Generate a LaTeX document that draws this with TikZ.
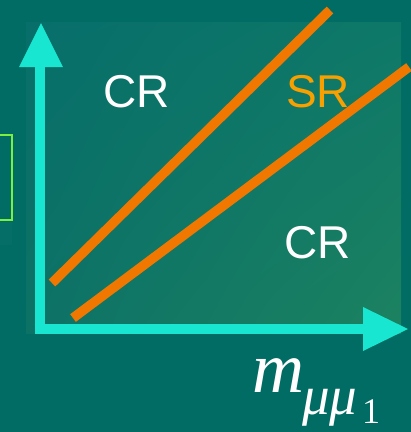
\documentclass[tikz,border=0pt]{standalone}
\usepackage{fontspec}
\usetikzlibrary{shadings}
\setmainfont{Liberation Serif}
\newfontfamily\lsans{Liberation Sans}
\definecolor{bgteal}{HTML}{006C64}
\definecolor{ulc}{HTML}{076E6A}
\definecolor{urc}{HTML}{0E7868}
\definecolor{llc}{HTML}{0D7266}
\definecolor{lrc}{HTML}{1C8260}
\definecolor{axiscol}{HTML}{18E6D0}
\definecolor{cutcol}{HTML}{F07800}
\definecolor{srcol}{HTML}{F8A000}
\definecolor{boxcol}{HTML}{7CF040}
\tikzset{
  axisline/.style={line width=10.5pt, draw=axiscol},
  axishead/.style={fill=axiscol, draw=none},
  cutline/.style={line width=9.5pt, draw=cutcol},
  region/.style={font=\lsans\fontsize{46}{46}\selectfont, inner sep=0pt},
}
\begin{document}
\begin{tikzpicture}[x=1pt,y=-1pt]
\useasboundingbox (0,0) rectangle (411,432);
\fill[bgteal] (0,0) rectangle (411,432);
% faint shadow under left box
\fill[bgteal!85!white, opacity=0.15] (0,222) rectangle (12,245);
% plot area
\shade[upper left=ulc, upper right=urc, lower left=llc, lower right=lrc] (26,22) rectangle (401,333);
% left green box (partly outside)
\draw[boxcol, line width=2pt] (-5,135) rectangle (11.5,220);
% coordinates
\coordinate (orig) at (40,329);
\coordinate (ytop) at (40,67);
\coordinate (xend) at (363,329);
\coordinate (l1a) at (52,283);
\coordinate (l1b) at (330,10);
\coordinate (l2a) at (73,318);
\coordinate (l2b) at (409,67);
% cut lines
\draw[cutline] (l1a) -- (l1b);
\draw[cutline] (l2a) -- (l2b);
% axes
\draw[axisline] (40,334) -- (ytop);
\draw[axisline] (34.5,329) -- (xend);
\fill[axishead] (19,67) -- (41,23) -- (63,67) -- cycle;
\fill[axishead] (363,307) -- (408,329) -- (363,351) -- cycle;
% labels
\node[region, text=white] (cr1) at (137,92) {CR};
\node[region, text=srcol] (sr) at (318,92) {SR};
\node[region, text=white] (cr2) at (318,243) {CR};
\node[anchor=base west, inner sep=0pt, text=white] (mlab) at (252,392)
  {\fontsize{72}{72}\selectfont\itshape m};
\node[anchor=base west, inner sep=0pt, text=white] (mu) at (302,414)
  {\fontsize{55}{55}\selectfont\itshape μμ};
\node[anchor=base west, inner sep=0pt, text=white] (one) at (362,423)
  {\fontsize{36}{36}\selectfont 1};
\end{tikzpicture}
\end{document}
